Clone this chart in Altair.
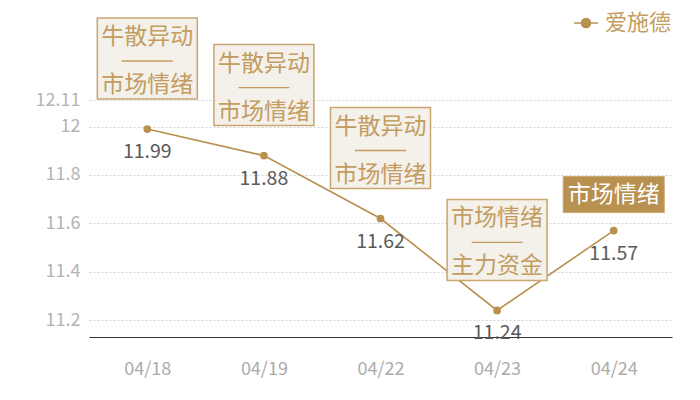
import altair as alt
import pandas as pd

# ---- data ----
dates = ["04/18", "04/19", "04/22", "04/23", "04/24"]
prices = [11.99, 11.88, 11.62, 11.24, 11.57]
tag_top = ["牛散异动", "牛散异动", "牛散异动", "市场情绪", ""]
tag_bottom = ["市场情绪", "市场情绪", "市场情绪", "主力资金", ""]
single_tag = ["", "", "", "", "市场情绪"]
series_name = "爱施德"
y_ticks = [11.2, 11.4, 11.6, 11.8, 12, 12.11]
y_domain = [11.13, 12.11]

df = pd.DataFrame({
    "date": dates,
    "price": prices,
    "top": tag_top,
    "bottom": tag_bottom,
    "single": single_tag,
    "series": [series_name] * len(dates),
})

FONT = "Noto Sans CJK SC"
GOLD = "#b8904f"
GOLD_TXT = "#c39c5f"
BOX_FILL = "#f4f0ea"
BOX_STROKE = "#c9a56f"

base = alt.Chart(df).encode(
    x=alt.X("date:O", sort=dates,
            scale=alt.Scale(type="point", padding=0.5),
            axis=alt.Axis(title=None, labelAngle=0, ticks=False, grid=False,
                          domainColor="#333333", domainWidth=1,
                          labelColor="#ababab", labelFontSize=18, labelFont=FONT,
                          labelPadding=23)),
    y=alt.Y("price:Q",
            scale=alt.Scale(domain=y_domain, nice=False, zero=False),
            axis=alt.Axis(title=None, values=y_ticks,
                          labelExpr="format(datum.value, '.4~g')", ticks=False,
                          domain=False, grid=True, gridDash=[2, 2],
                          gridColor="#d2d2d2", labelColor="#b3b3b3",
                          labelFontSize=18, labelFont=FONT, labelPadding=9)),
)

line = base.mark_line(strokeWidth=1.6).encode(
    color=alt.Color("series:N",
                    scale=alt.Scale(domain=[series_name], range=[GOLD]),
                    legend=alt.Legend(
                        title=None, orient="none", legendX=484, legendY=-90,
                        symbolType="M-1,0H1M-0.38,0A0.38,0.38,0,1,1,0.38,0A0.38,0.38,0,1,1,-0.38,0Z",
                        symbolSize=576, symbolFillColor=GOLD,
                        symbolStrokeColor="#cfb288", symbolStrokeWidth=1.5,
                        labelFont=FONT, labelFontSize=22, labelColor=GOLD_TXT,
                        labelOffset=6, labelLimit=300)),
)

points = base.mark_circle(size=60, opacity=1, color=GOLD)

two = base.transform_filter(alt.datum.top != "")

boxes = two.mark_rect(width=100, height=81, yOffset=-70.5, fill=BOX_FILL,
                      stroke=BOX_STROKE, strokeWidth=1.5)
sep = two.mark_tick(orient="horizontal", size=51, thickness=1.3, yOffset=-68,
                    color=GOLD_TXT, opacity=1)
txt_top = two.mark_text(dy=-92, fontSize=23, font=FONT, color=GOLD_TXT,
                        baseline="middle").encode(text="top:N")
txt_bot = two.mark_text(dy=-44, fontSize=23, font=FONT, color=GOLD_TXT,
                        baseline="middle").encode(text="bottom:N")

one = base.transform_filter(alt.datum.single != "")
box5 = one.mark_rect(width=101, height=36, yOffset=-36, fill=GOLD,
                     stroke="#c9a56f", strokeWidth=1)
txt5 = one.mark_text(dy=-36, fontSize=23, font=FONT, color="white",
                     baseline="middle").encode(text="single:N")

values = base.mark_text(dy=23, fontSize=19.5, font=FONT, color="#5a5a5a",
                        baseline="middle").encode(text=alt.Text("price:Q", format=".2f"))

chart = alt.layer(line, points, boxes, sep, txt_top, txt_bot, values, box5, txt5).properties(
    width=583, height=237,
    padding={"left": 81, "top": 92, "right": 20, "bottom": 55},
    autosize=alt.AutoSizeParams(type="none"),
    background="white",
).configure_view(strokeOpacity=0)

chart.save("out.html", embed_options={"renderer": "svg", "actions": False})
